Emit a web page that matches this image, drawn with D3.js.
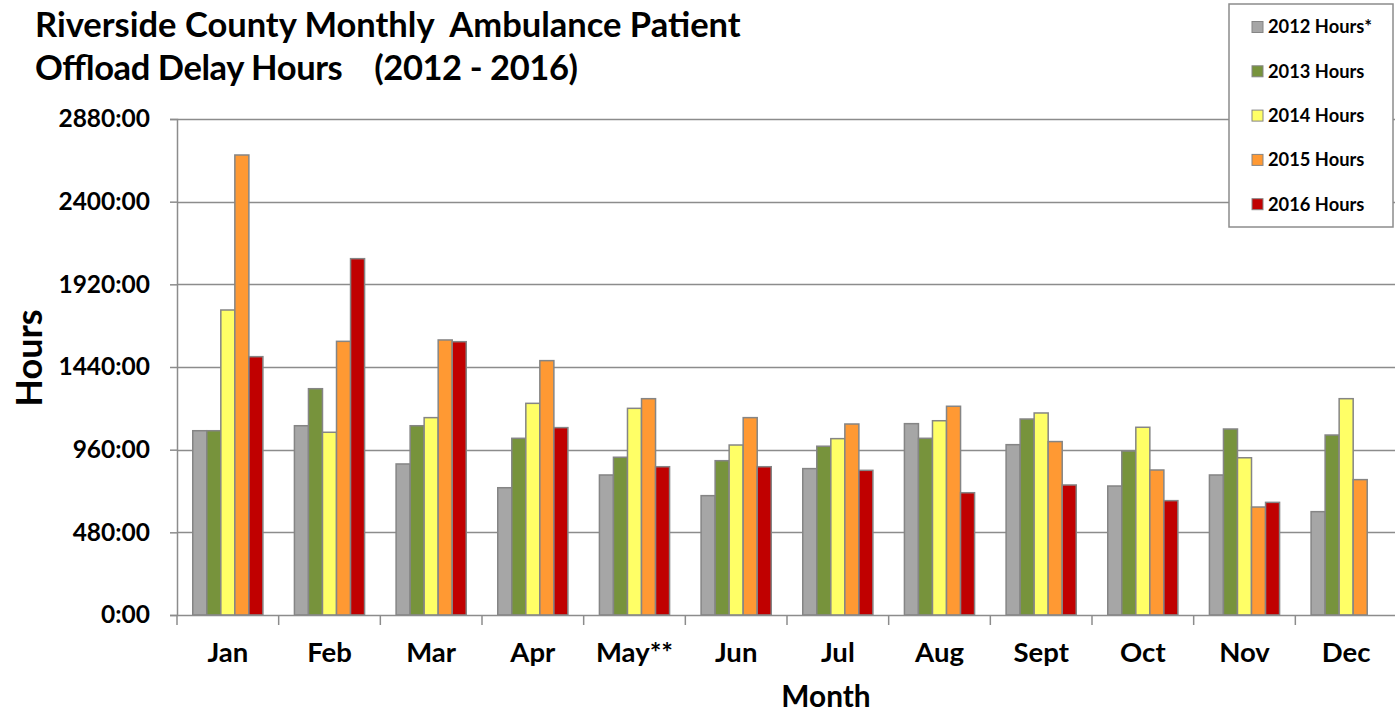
<!DOCTYPE html>
<html>
<head>
<meta charset="utf-8">
<script src="https://cdnjs.cloudflare.com/ajax/libs/d3/7.8.5/d3.min.js"></script>
<style>
  body { margin: 0; background: #fff; }
  svg text { font-family: Lato, "Open Sans", sans-serif; font-weight: bold; fill: #000; white-space: pre; }
</style>
</head>
<body>
<div id="chart"></div>
<script>
const months = ['Jan', 'Feb', 'Mar', 'Apr', 'May**', 'Jun', 'Jul', 'Aug', 'Sept', 'Oct', 'Nov', 'Dec']
const seriesNames = ['2012 Hours*', '2013 Hours', '2014 Hours', '2015 Hours', '2016 Hours']
const hours2012 = [1070, 1099, 877, 739, 813, 693, 850, 1111, 989, 749, 813, 600]
const hours2013 = [1070, 1314, 1099, 1026, 916, 896, 980, 1026, 1138, 952, 1080, 1045]
const hours2014 = [1771, 1061, 1146, 1229, 1200, 987, 1024, 1128, 1173, 1090, 913, 1256]
const hours2015 = [2671, 1589, 1597, 1477, 1256, 1146, 1109, 1212, 1007, 842, 627, 786]
const hours2016 = [1500, 2069, 1587, 1088, 861, 861, 840, 710, 755, 664, 654, null]
const yTicks = [0, 480, 960, 1440, 1920, 2400, 2880]
const colors = ['#A6A6A6', '#77933C', '#FFFF66', '#FF9933', '#C00000']

const allSeries = [hours2012, hours2013, hours2014, hours2015, hours2016]

const width = 1395, height = 713
const margin = { top: 119, right: -2, bottom: 98, left: 177 }

const svg = d3.select('#chart').append('svg')
  .attr('width', width)
  .attr('height', height)

const x = d3.scaleBand()
  .domain(months)
  .range([margin.left, width - margin.right])
  .paddingInner(0.31)
  .paddingOuter(0.155)

const xOuter = d3.scaleBand()
  .domain(months)
  .range([margin.left, width - margin.right])

const xSub = d3.scaleBand()
  .domain(seriesNames)
  .range([0, x.bandwidth()])

const y = d3.scaleLinear()
  .domain([0, 2880])
  .range([height - margin.bottom, margin.top])

// gridlines
svg.append('g')
  .selectAll('line')
  .data(yTicks.filter(d => d > 0))
  .join('line')
  .attr('x1', margin.left)
  .attr('x2', width)
  .attr('y1', d => Math.round(y(d)) + 0.5)
  .attr('y2', d => Math.round(y(d)) + 0.5)
  .attr('stroke', '#8c8c8c')
  .attr('stroke-width', 1.5)

// y axis
const yAxis = svg.append('g')
  .attr('transform', `translate(${margin.left},0)`)
  .call(d3.axisLeft(y).tickValues(yTicks).tickSize(7).tickPadding(20).tickFormat(d => d + ':00'))
yAxis.select('.domain').attr('stroke', '#8c8c8c').attr('stroke-width', 1.5)
yAxis.selectAll('.tick line').attr('stroke', '#8c8c8c').attr('stroke-width', 1.5)
yAxis.selectAll('.tick text')
  .attr('font-size', 24.5)
  .attr('font-family', 'Lato, sans-serif')
  .attr('font-weight', 'bold')
  .attr('fill', '#000')

// bars
const groups = svg.append('g')
  .selectAll('g')
  .data(months)
  .join('g')
  .attr('transform', d => `translate(${x(d)},0)`)

groups.selectAll('rect')
  .data((m, i) => seriesNames.map((s, j) => ({ s, j, v: allSeries[j][i] })).filter(d => d.v != null))
  .join('rect')
  .attr('x', d => xSub(d.s))
  .attr('width', xSub.bandwidth())
  .attr('y', d => y(d.v))
  .attr('height', d => y(0) - y(d.v))
  .attr('fill', d => colors[d.j])
  .attr('stroke', '#858585')
  .attr('stroke-width', 1.5)

// x axis
const xAxis = svg.append('g')
  .attr('transform', `translate(0,${y(0)})`)
  .call(d3.axisBottom(xOuter).tickSize(0).tickPadding(27))
xAxis.select('.domain').attr('stroke', '#8c8c8c').attr('stroke-width', 1.5)
xAxis.selectAll('.tick text')
  .attr('font-size', 27.5)
  .attr('font-family', 'Lato, sans-serif')
  .attr('font-weight', 'bold')
  .attr('fill', '#000')
xAxis.selectAll('.sep')
  .data(months)
  .join('line')
  .attr('class', 'sep')
  .attr('x1', d => xOuter(d))
  .attr('x2', d => xOuter(d))
  .attr('y1', 0)
  .attr('y2', 10)
  .attr('stroke', '#8c8c8c')
  .attr('stroke-width', 1.5)

// titles
svg.append('text')
  .attr('x', 35)
  .attr('y', 37)
  .attr('font-size', 34.5)
  .text('Riverside County Monthly  Ambulance Patient')
svg.append('text')
  .attr('x', 35)
  .attr('y', 80)
  .attr('font-size', 34.5)
  .attr('textLength', 543)
  .text('Offload Delay Hours    (2012 - 2016)')

svg.append('text')
  .attr('transform', 'translate(42,358) rotate(-90)')
  .attr('text-anchor', 'middle')
  .attr('font-size', 36)
  .text('Hours')

svg.append('text')
  .attr('x', 826)
  .attr('y', 707)
  .attr('text-anchor', 'middle')
  .attr('font-size', 29.8)
  .text('Month')

// legend
const legend = svg.append('g').attr('transform', 'translate(1229,4)')
legend.append('rect')
  .attr('width', 164)
  .attr('height', 223)
  .attr('fill', '#fff')
  .attr('stroke', '#8c8c8c')
  .attr('stroke-width', 1.5)
const items = legend.selectAll('.item')
  .data(seriesNames)
  .join('g')
  .attr('class', 'item')
  .attr('transform', (d, i) => `translate(23,${23 + i * 44.3})`)
items.append('rect')
  .attr('x', 0)
  .attr('y', -5.5)
  .attr('width', 11)
  .attr('height', 11)
  .attr('fill', (d, i) => colors[i])
  .attr('stroke', '#858585')
  .attr('stroke-width', 1)
items.append('text')
  .attr('x', 16)
  .attr('dy', '0.35em')
  .attr('font-size', 18.3)
  .text(d => d)
</script>
</body>
</html>
